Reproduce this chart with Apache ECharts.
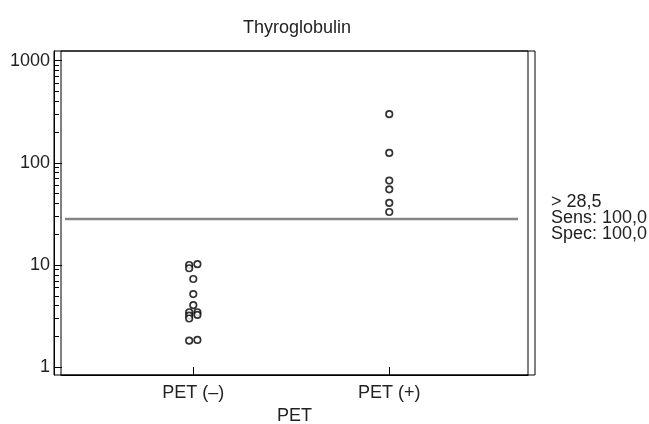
<!DOCTYPE html>
<html>
<head>
<meta charset="utf-8">
<script src="https://cdn.jsdelivr.net/npm/echarts@6/dist/echarts.min.js"></script>
<style>html,body{margin:0;padding:0;background:#fff}#c{width:649px;height:424px}</style>
</head>
<body>
<div id="c"></div>
<script>
// ---- data ----
const categories = ['PET (–)', 'PET (+)'];
const negValues  = [10.0, 10.2, 9.3, 7.3, 5.2, 4.05, 3.45, 3.2, 3.0, 3.45, 3.25, 1.82, 1.85];
const negColumn  = [-1, 1, -1, 0, 0, 0, -1, -1, -1, 1, 1, -1, 1];
const posValues  = [299, 125, 67, 55, 40.5, 33];
const posColumn  = [0, 0, 0, 0, 0, 0];
const cutoff = 28.5;
const cutoffText = ['> 28,5', 'Sens: 100,0', 'Spec: 100,0'];
const yMajorTicks = [1, 10, 100, 1000];
const yMinorTicks = [2,3,4,5,6,7,8,9,20,30,40,50,60,70,80,90,200,300,400,500,600,700,800,900];
const title = 'Thyroglobulin';
const xName = 'PET';

// ---- chart ----
const FONT = "'Liberation Sans', Arial, sans-serif";
const FS = 18;
const spread = 0.021;
const yMin = 0.84, yMax = 1240;
const xMin = 0.325, xMax = 2.708;

const negData = negValues.map((v, i) => [1 + negColumn[i] * spread, v]);
const posData = posValues.map((v, i) => [2 + posColumn[i] * spread, v]);

const chart = echarts.init(document.getElementById('c'), null, {renderer: 'canvas'});
const sym = {
  symbol: 'circle', symbolSize: 6.5,
  itemStyle: {color: '#fff', borderColor: '#000', borderWidth: 1.7}
};
chart.setOption({
  animation: false,
  backgroundColor: '#fff',
  textStyle: {fontFamily: FONT},
  title: {
    text: title, left: 292, top: 14, textAlign: 'center',
    textStyle: {fontFamily: FONT, fontSize: FS, fontWeight: 'normal', color: '#222'}
  },
  grid: [
    {left: 54, right: 114, top: 51, bottom: 49, show: true, borderColor: '#000', borderWidth: 1,
     backgroundColor: 'transparent', containLabel: false, outerBoundsMode: 'none'},
    {left: 61, right: 121, top: 51, bottom: 49, show: true, borderColor: '#000', borderWidth: 1,
     backgroundColor: 'transparent', containLabel: false, outerBoundsMode: 'none'}
  ],
  xAxis: [
    {gridIndex: 0, type: 'value', min: xMin, max: xMax, show: false},
    {gridIndex: 1, type: 'value', min: xMin, max: xMax,
     axisLine: {show: true, lineStyle: {color: '#000', width: 1}},
     axisTick: {show: true, inside: true, length: 8, customValues: [1, 2], lineStyle: {color: '#000'}},
     axisLabel: {customValues: [1, 2], formatter: v => categories[Math.round(v) - 1],
                 fontFamily: FONT, fontSize: FS, color: '#222', margin: 9},
     splitLine: {show: false},
     name: xName, nameLocation: 'middle', nameGap: 32,
     nameTextStyle: {fontFamily: FONT, fontSize: FS, color: '#222'}}
  ],
  yAxis: [
    {gridIndex: 0, type: 'log', min: yMin, max: yMax, position: 'left',
     axisLine: {show: true, lineStyle: {color: '#000', width: 1}},
     axisTick: {show: true, inside: true, length: 8, customValues: yMajorTicks, lineStyle: {color: '#000'}},
     axisLabel: {customValues: yMajorTicks, formatter: v => String(Math.round(v)),
                 fontFamily: FONT, fontSize: FS, color: '#222', margin: 4, padding: [0, 0, 8, 0]},
     splitLine: {show: false}, minorTick: {show: false}},
    {gridIndex: 0, type: 'log', min: yMin, max: yMax, position: 'left',
     axisLine: {show: false},
     axisTick: {show: true, inside: true, length: 5, customValues: yMinorTicks, lineStyle: {color: '#000'}},
     axisLabel: {show: false}, splitLine: {show: false}},
    {gridIndex: 1, type: 'log', min: yMin, max: yMax, show: false, splitLine: {show: false}}
  ],
  series: [
    Object.assign({type: 'scatter', xAxisIndex: 1, yAxisIndex: 2, data: negData}, sym),
    Object.assign({type: 'scatter', xAxisIndex: 1, yAxisIndex: 2, data: posData,
      markLine: {
        silent: true, symbol: 'none', animation: false,
        lineStyle: {color: '#858585', width: 2.4, type: 'solid'},
        label: {show: true, position: 'end', distance: 33, formatter: cutoffText.join('\n'),
                fontFamily: FONT, fontSize: FS, lineHeight: 16, color: '#222', align: 'left'},
        data: [[{coord: [0.345, cutoff]}, {coord: [2.657, cutoff]}]]
      }}, sym)
  ]
});
</script>
</body>
</html>
